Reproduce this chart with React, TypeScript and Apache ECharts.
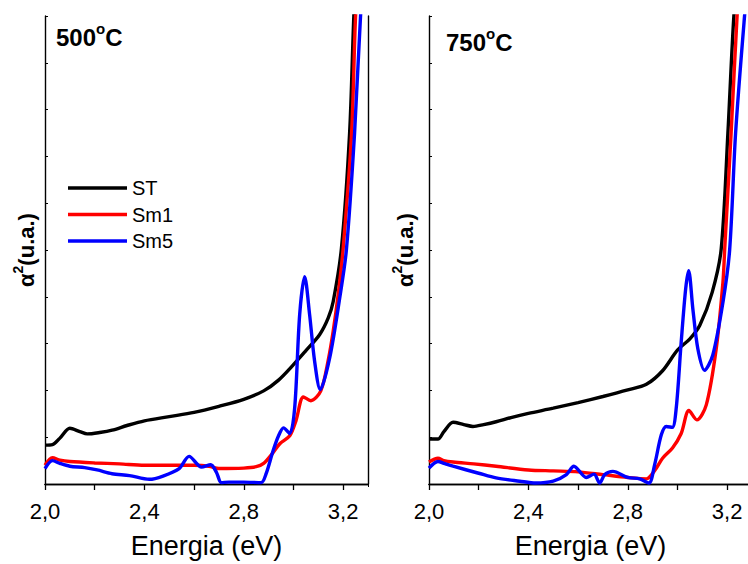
import React, { useEffect, useRef } from "react";
import * as echarts from "echarts";

// ---- 500 °C ----
const st500E = [2.0, 2.03, 2.06, 2.1, 2.14, 2.17, 2.22, 2.27, 2.33, 2.4, 2.5, 2.6, 2.7, 2.8, 2.88, 2.94, 3.0, 3.05, 3.105, 3.14, 3.16, 3.193, 3.226, 3.243, 3.25];
const st500A = [0.83, 0.84, 0.98, 1.19, 1.12, 1.07, 1.1, 1.15, 1.25, 1.35, 1.44, 1.53, 1.66, 1.81, 1.99, 2.22, 2.55, 2.85, 3.19, 3.55, 3.9, 5.03, 7.5, 10, 10.5];

const sm1500E = [2.0, 2.03, 2.06, 2.1, 2.2, 2.3, 2.4, 2.5, 2.6, 2.66, 2.7, 2.8, 2.85, 2.88, 2.915, 2.945, 2.985, 3.01, 3.04, 3.07, 3.11, 3.14, 3.16, 3.18, 3.2, 3.234, 3.25, 3.26];
const sm1500A = [0.4, 0.56, 0.51, 0.48, 0.45, 0.43, 0.4, 0.4, 0.4, 0.38, 0.33, 0.34, 0.37, 0.44, 0.65, 0.86, 1.03, 1.35, 1.86, 1.78, 1.99, 2.65, 3.27, 4.05, 5.03, 7.5, 10, 10.6];

const sm5500E = [2.0, 2.03, 2.06, 2.1, 2.16, 2.21, 2.27, 2.34, 2.42, 2.475, 2.54, 2.58, 2.63, 2.667, 2.69, 2.71, 2.74, 2.8, 2.87, 2.89, 2.918, 2.94, 2.96, 2.985, 3.005, 3.025, 3.045, 3.065, 3.085, 3.108, 3.146, 3.186, 3.213, 3.246, 3.27, 3.28];
const sm5500A = [0.33, 0.5, 0.44, 0.38, 0.35, 0.3, 0.22, 0.18, 0.1, 0.17, 0.33, 0.59, 0.36, 0.41, 0.25, 0.03, 0.04, 0.04, 0.03, 0.22, 0.71, 1.03, 1.2, 1.08, 1.63, 3.62, 4.43, 3.62, 2.63, 2.02, 2.7, 3.97, 5.0, 7.5, 10, 10.5];

// ---- 750 °C ----
const st750E = [2.0, 2.036, 2.06, 2.097, 2.14, 2.177, 2.22, 2.27, 2.33, 2.4, 2.5, 2.6, 2.7, 2.8, 2.875, 2.94, 3.0, 3.05, 3.09, 3.14, 3.176, 3.203, 3.227, 3.24];
const st750A = [0.96, 0.96, 1.12, 1.32, 1.27, 1.23, 1.27, 1.33, 1.42, 1.51, 1.62, 1.74, 1.87, 2.01, 2.13, 2.42, 2.86, 3.1, 3.39, 4.1, 5.02, 7.5, 10, 10.6];

const sm1750E = [2.0, 2.036, 2.06, 2.097, 2.18, 2.27, 2.4, 2.5, 2.6, 2.7, 2.8, 2.875, 2.91, 2.94, 2.98, 3.015, 3.046, 3.078, 3.116, 3.156, 3.183, 3.19, 3.216, 3.24, 3.25];
const sm1750A = [0.47, 0.55, 0.5, 0.47, 0.43, 0.38, 0.3, 0.28, 0.26, 0.2, 0.14, 0.11, 0.3, 0.55, 0.77, 1.08, 1.57, 1.37, 1.69, 2.89, 4.31, 5.0, 7.5, 10, 10.6];

const sm5750E = [2.0, 2.036, 2.06, 2.097, 2.2, 2.27, 2.365, 2.43, 2.5, 2.553, 2.583, 2.633, 2.664, 2.687, 2.707, 2.74, 2.8, 2.848, 2.885, 2.908, 2.935, 2.955, 2.979, 2.995, 3.015, 3.033, 3.045, 3.062, 3.082, 3.109, 3.142, 3.183, 3.21, 3.234, 3.27, 3.28];
const sm5750A = [0.34, 0.48, 0.44, 0.38, 0.23, 0.13, 0.06, 0.02, 0.06, 0.2, 0.38, 0.14, 0.21, 0.02, 0.2, 0.27, 0.14, 0.11, 0.02, 0.41, 1.05, 1.23, 1.21, 1.62, 3.03, 4.17, 4.56, 3.74, 2.89, 2.43, 2.75, 3.88, 5.0, 7.5, 10, 10.5];

const seriesNames = ["ST", "Sm1", "Sm5"];
const seriesColors = ["#000000", "#ff0000", "#0000ff"];
const panelTitles = ["500", "750"];

const X_MIN = 2.0;
const X_MAX = 3.3;
const X_STEP = 0.2;
const Y_MIN = 0;
const Y_MAX = 10;
const Y_STEP = 1;

const FONT = "'Liberation Sans', Arial, sans-serif";

const zip = (xs: number[], ys: number[]) => xs.map((x, i) => [x, ys[i]]);

const tickLabel = (v: number) => {
  const t = Math.round(v * 10);
  return t % 4 === 0 ? (t / 10).toFixed(1).replace(".", ",") : "";
};

export default function App() {
  const ref = useRef<HTMLDivElement>(null);

  useEffect(() => {
    if (!ref.current) return;
    const chart = echarts.init(ref.current, undefined, { renderer: "svg" });

    const panels = [
      { left: 45, data: [zip(st500E, st500A), zip(sm1500E, sm1500A), zip(sm5500E, sm5500A)], nameGap: 4 },
      { left: 429, data: [zip(st750E, st750A), zip(sm1750E, sm1750A), zip(sm5750E, sm5750A)], nameGap: 9 },
    ];

    const axisLine = { show: true, lineStyle: { color: "#000", width: 1.4 } };

    const grid: any[] = [];
    const xAxis: any[] = [];
    const yAxis: any[] = [];
    const series: any[] = [];

    panels.forEach((p, gi) => {
      grid.push({ left: p.left, top: 16, width: 323, height: 471, containLabel: false });
      // bottom energy axis
      xAxis.push({
        type: "value", gridIndex: gi, position: "bottom", min: X_MIN, max: X_MAX, interval: X_STEP,
        axisLine, splitLine: { show: false },
        axisTick: { show: true, inside: false, length: 6, lineStyle: { color: "#000", width: 1.3 } },
        axisLabel: { show: true, formatter: tickLabel, fontSize: 22, fontFamily: FONT, color: "#000", margin: 16, showMaxLabel: false },
        name: "Energia (eV)", nameLocation: "middle", nameGap: 48,
        nameTextStyle: { fontSize: 27, fontFamily: FONT, color: "#000" },
      });
      // top mirror axis
      xAxis.push({
        type: "value", gridIndex: gi, position: "top", min: X_MIN, max: X_MAX, interval: X_STEP,
        axisLine, splitLine: { show: false },
        axisTick: { show: true, inside: true, length: 3, lineStyle: { color: "#000", width: 1 } },
        axisLabel: { show: false },
      });
      // left intensity axis
      yAxis.push({
        type: "value", gridIndex: gi, position: "left", min: Y_MIN, max: Y_MAX, interval: Y_STEP,
        axisLine, splitLine: { show: false },
        axisTick: { show: true, inside: true, length: 3, lineStyle: { color: "#000", width: 1 } },
        axisLabel: { show: false },
        name: "{a|α}{s|2}{a|(u.a.)}", nameLocation: "middle", nameRotate: 90, nameGap: p.nameGap,
        nameTextStyle: {
          rich: {
            a: { fontSize: 22, fontWeight: "bold", fontFamily: FONT, color: "#000", lineHeight: 30 },
            s: { fontSize: 14, fontWeight: "bold", fontFamily: FONT, color: "#000", verticalAlign: "top", lineHeight: 14 },
          },
        },
      });
      // right mirror axis
      yAxis.push({
        type: "value", gridIndex: gi, position: "right", min: Y_MIN, max: Y_MAX, interval: Y_STEP,
        axisLine, splitLine: { show: false }, axisTick: { show: false }, axisLabel: { show: false },
      });
      p.data.forEach((d, si) => {
        series.push({
          type: "line", name: seriesNames[si], xAxisIndex: gi * 2, yAxisIndex: gi * 2,
          data: d, showSymbol: false, symbol: "none", smooth: 0.3, clip: true,
          lineStyle: { color: seriesColors[si], width: 3.4 }, itemStyle: { color: seriesColors[si] },
          z: 2 + si,
        });
      });
    });

    const titleRich = {
      n: { fontSize: 24, fontWeight: "bold", fontFamily: FONT, fill: "#000", color: "#000", lineHeight: 32 },
      o: { fontSize: 15, fontWeight: "bold", fontFamily: FONT, fill: "#000", color: "#000", verticalAlign: "top", lineHeight: 15 },
    };

    chart.setOption({
      animation: false,
      backgroundColor: "#ffffff",
      grid, xAxis, yAxis, series,
      legend: {
        data: seriesNames.map((n) => ({ name: n, icon: "rect" })),
        orient: "vertical", left: 68, top: 178, padding: 0,
        itemWidth: 59, itemHeight: 3.4, itemGap: 6.5, selectedMode: false,
        textStyle: { fontSize: 20, fontFamily: FONT, color: "#000", lineHeight: 20 },
      },
      graphic: [
        { type: "text", x: 56, y: 21, style: { text: `{n|${panelTitles[0]}}{o|o}{n|C}`, rich: titleRich } },
        { type: "text", x: 446, y: 26, style: { text: `{n|${panelTitles[1]}}{o|o}{n|C}`, rich: titleRich } },
      ],
    });

    return () => chart.dispose();
  }, []);

  return (
    <div style={{ position: "fixed", left: 0, top: 0, width: 748, height: 564, overflow: "hidden", background: "#fff" }}>
      <div ref={ref} style={{ width: 790, height: 564 }} />
    </div>
  );
}
